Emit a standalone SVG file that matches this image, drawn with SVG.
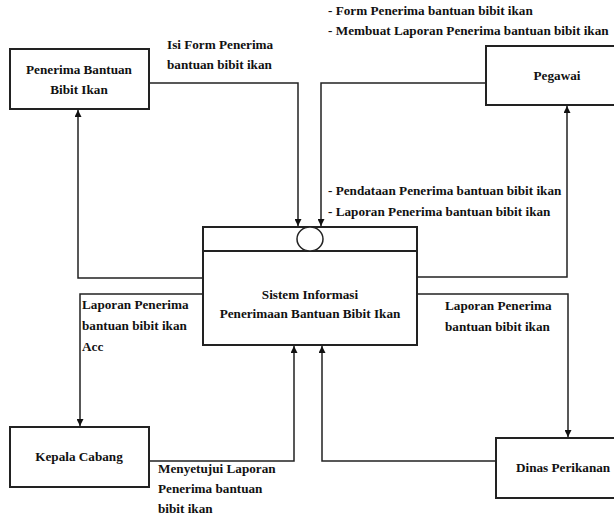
<svg xmlns="http://www.w3.org/2000/svg" width="614" height="520" viewBox="0 0 614 520">
<style>
text{font-family:"Liberation Serif","Times New Roman",serif;font-weight:bold;font-size:13.2px;fill:#111}
.c{text-anchor:middle}
.box{fill:#fff;stroke:#222;stroke-width:2}
.ln{fill:none;stroke:#222;stroke-width:1.5}
</style>
<defs>
<marker id="ah" viewBox="0 0 10 10" refX="10" refY="5" markerWidth="7" markerHeight="7" orient="auto-start-reverse" markerUnits="userSpaceOnUse">
<path d="M0,0 L10,5 L0,10 z" fill="#111"/>
</marker>
</defs>
<rect width="614" height="520" fill="#fff"/>
<g id="connectors">
<path class="ln" d="M149,83 H298 V226" marker-end="url(#ah)"/>
<path class="ln" d="M486,83 H321 V226" marker-end="url(#ah)"/>
<path class="ln" d="M203,278 H78 V110" marker-end="url(#ah)"/>
<path class="ln" d="M417,277 H567 V106" marker-end="url(#ah)"/>
<path class="ln" d="M203,294 H80 V426" marker-end="url(#ah)"/>
<path class="ln" d="M417,294 H568 V437" marker-end="url(#ah)"/>
<path class="ln" d="M149,461 H294 V346" marker-end="url(#ah)"/>
<path class="ln" d="M496,461 H322 V346" marker-end="url(#ah)"/>
<text x="167" y="49">Isi Form Penerima</text>
<text x="167" y="69">bantuan bibit ikan</text>
<text x="328" y="15">- Form Penerima bantuan bibit ikan</text>
<text x="328" y="35">- Membuat Laporan Penerima bantuan bibit ikan</text>
<text x="328" y="195">- Pendataan Penerima bantuan bibit ikan</text>
<text x="328" y="216">- Laporan Penerima bantuan bibit ikan</text>
<text x="82" y="309">Laporan Penerima</text>
<text x="82" y="330">bantuan bibit ikan</text>
<text x="82" y="351">Acc</text>
<text x="445" y="310">Laporan Penerima</text>
<text x="445" y="331">bantuan bibit ikan</text>
<text x="158" y="473">Menyetujui Laporan</text>
<text x="158" y="493">Penerima bantuan</text>
<text x="158" y="513">bibit ikan</text>
</g>
<g id="sistem">
<rect class="box" x="203" y="227" width="214" height="118"/>
<line class="ln" x1="203" y1="251" x2="417" y2="251" style="stroke-width:2"/>
<ellipse cx="310" cy="239" rx="13" ry="12" fill="#fff" stroke="#222" stroke-width="1.5"/>
<text class="c" x="310" y="299">Sistem Informasi</text>
<text class="c" x="310" y="318">Penerimaan Bantuan Bibit Ikan</text>
</g>
<g id="penerima">
<rect class="box" x="10" y="49" width="139" height="60"/>
<text class="c" x="79" y="74">Penerima Bantuan</text>
<text class="c" x="79" y="94">Bibit Ikan</text>
</g>
<g id="pegawai">
<rect class="box" x="486" y="46" width="132" height="59"/>
<text class="c" x="557" y="80">Pegawai</text>
</g>
<g id="kepala">
<rect class="box" x="10" y="427" width="139" height="60"/>
<text class="c" x="79" y="461">Kepala Cabang</text>
</g>
<g id="dinas">
<rect class="box" x="496" y="438" width="122" height="60"/>
<text x="516" y="472">Dinas Perikanan</text>
</g>
</svg>
